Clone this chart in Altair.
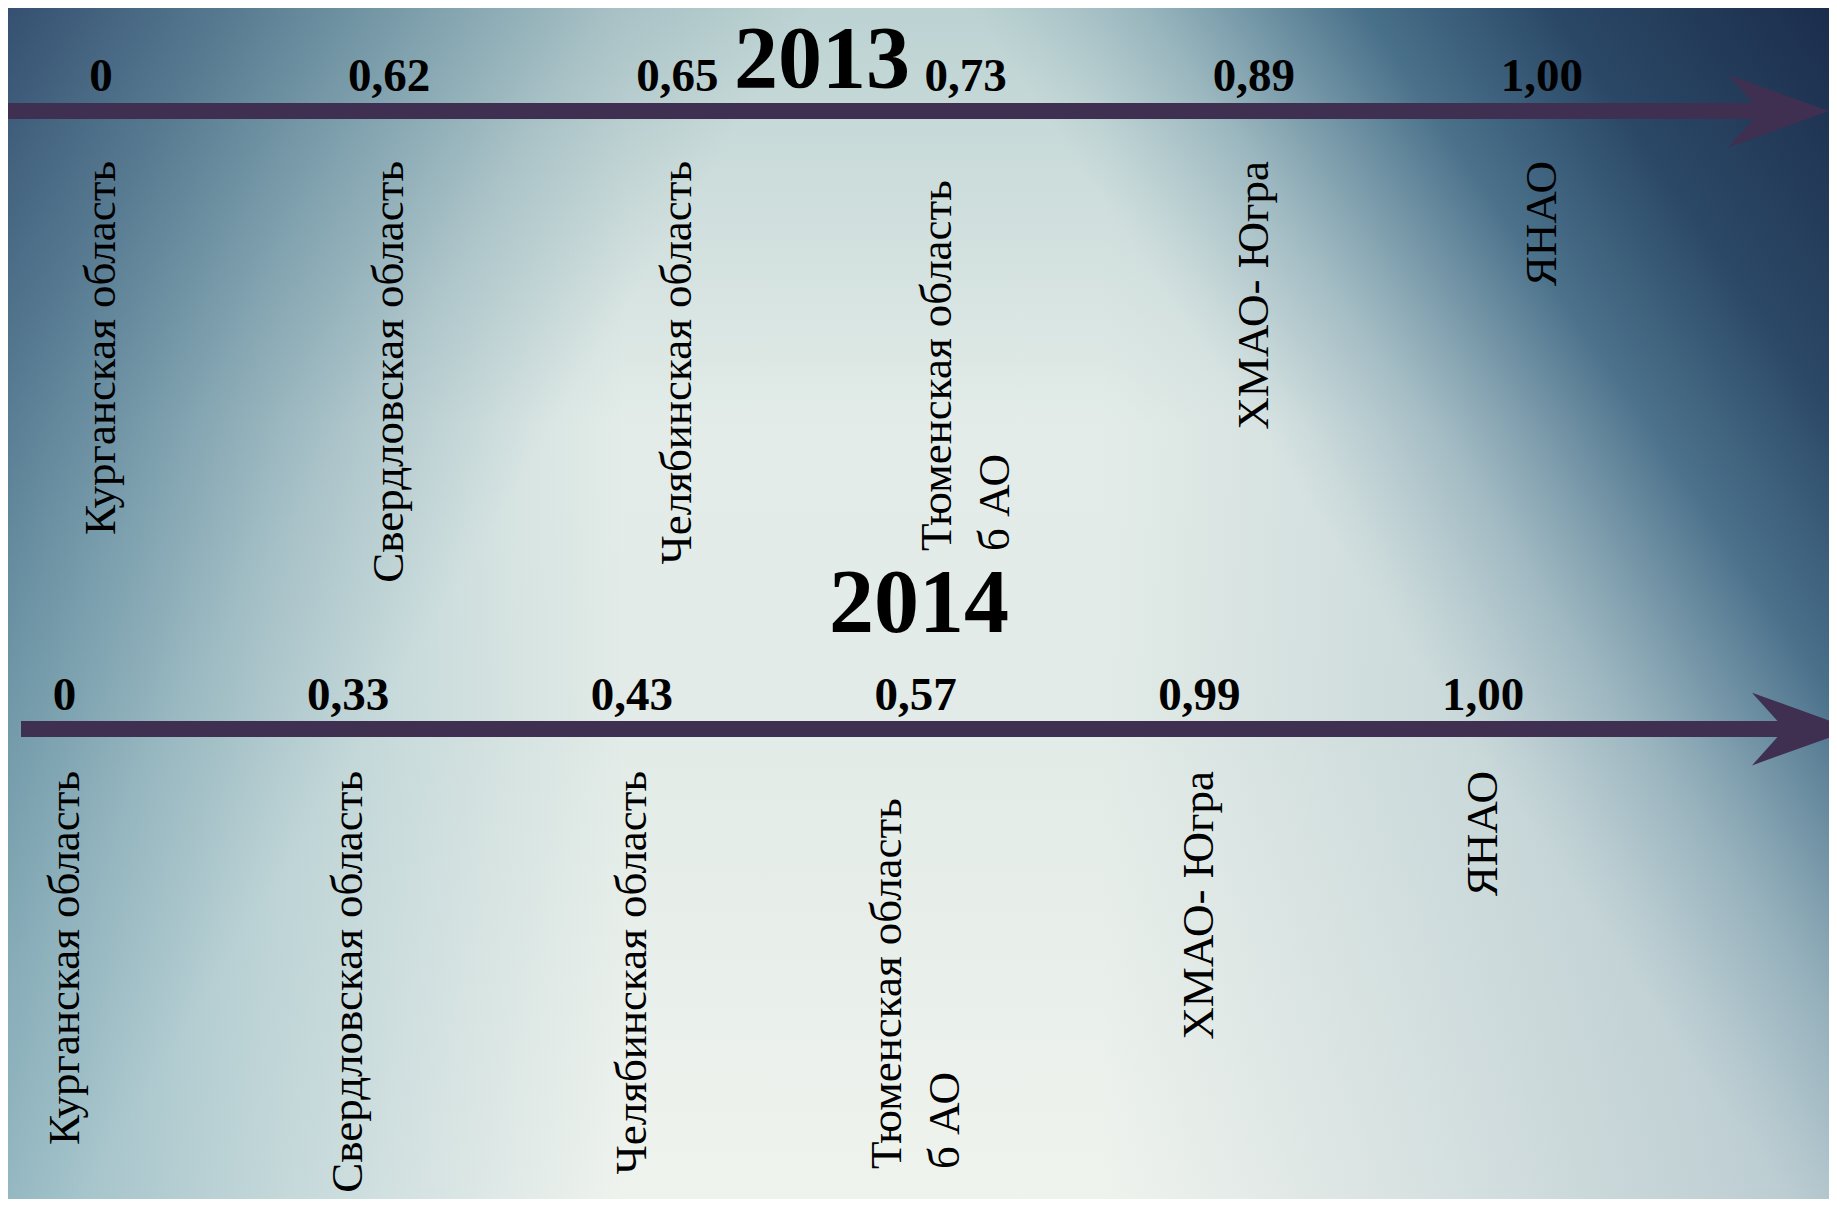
import altair as alt
import pandas as pd

# ---------------- data ----------------
regions = ["Курганская область", "Свердловская область", "Челябинская область",
           "Тюменская область\nб АО", "ХМАО- Югра", "ЯНАО"]
years = ["2013", "2014"]
values_2013 = [0, 0.62, 0.65, 0.73, 0.89, 1.00]
values_2014 = [0, 0.33, 0.43, 0.57, 0.99, 1.00]

rows = []
for year, vals in zip(years, [values_2013, values_2014]):
    for r, v in zip(regions, vals):
        rows.append({"year": year, "region": r, "value": v, "multi": "\n" in r})
df = pd.DataFrame(rows)
years_df = pd.DataFrame({"year": years})
one = pd.DataFrame({"k": [0]})

# ---------------- style ----------------
W, H = 1821, 1191
SERIF = "Liberation Serif"
ARROW = "#3f3052"
HEAD = "M -1 -0.72 L 1 0 L -1 0.72 L -0.35 0 Z"


def grad(kind, stops, **coords):
    g = {"gradient": kind, "stops": [{"offset": o, "color": c} for o, c in stops]}
    g.update(coords)
    return g


def bg(fill, x, x2, y, y2):
    return alt.Chart(one).mark_rect(fill=fill).encode(
        x=alt.value(x), x2=alt.value(x2), y=alt.value(y), y2=alt.value(y2))


bg_layers = [
    # light centre column, darker at the top
    bg(grad("linear", [(0, "#bcd2d2"), (0.35, "#e3ece8"), (0.6, "#e2ebe7"), (1, "#eff3ee")],
            x1=0, y1=0, x2=0, y2=1), 0, W, 0, H),
    # teal on the left
    bg(grad("linear", [(0, "rgba(85,145,165,0.55)"), (0.15, "rgba(85,145,165,0.28)"),
                       (0.34, "rgba(85,145,165,0)")], x1=0, y1=0, x2=1, y2=0), 0, W, 0, H),
    # teal-blue on the right
    bg(grad("linear", [(0.6, "rgba(60,110,140,0)"), (0.8, "rgba(60,110,140,0.15)"),
                       (1, "rgba(60,110,140,0.3)")], x1=0, y1=0, x2=1, y2=0), 0, W, 0, H),
    # dark top-left corner
    bg(grad("linear", [(0, "rgba(25,45,85,0.75)"), (0.3, "rgba(35,70,105,0.55)"),
                       (0.55, "rgba(40,85,115,0.32)"), (0.75, "rgba(40,85,115,0.14)"),
                       (1, "rgba(40,85,115,0)")], x1=0.0714, y1=0.0714, x2=0.496, y2=0.331),
       -108, 1292, -108, 1292),
    # dark navy top-right corner
    bg(grad("linear", [(0, "rgba(22,38,70,0.96)"), (0.33, "rgba(25,55,88,0.88)"),
                       (0.55, "rgba(30,75,110,0.7)"), (0.8, "rgba(50,100,130,0.25)"),
                       (0.95, "rgba(60,110,140,0.05)"), (1, "rgba(60,110,140,0)")],
            x1=0.812, y1=0.0714, x2=0.388, y2=0.362),
       692, 2092, -108, 1292),
]

yenc = alt.Y("year:N", scale=alt.Scale(domain=years, type="point", padding=0.4636, align=0.1798),
             axis=None)

cfgs = {
    "2013": dict(pad=0.6593, align=0.2447, val_dy=-20, lab_gap=50, title_x=814, title_dy=-24,
                 title_size=88, shaft=(0, 1755), head=1770.5),
    "2014": dict(pad=0.7094, align=0.1404, val_dy=-19, lab_gap=42, title_x=911, title_dy=-97,
                 title_size=90, shaft=(13, 1780), head=1794.5),
}


def year_layers(year):
    c = cfgs[year]
    xenc = alt.X("region:N", sort=regions, axis=None,
                 scale=alt.Scale(domain=regions, type="point", padding=c["pad"], align=c["align"]))
    f_year = f"datum.year == '{year}'"

    shaft = alt.Chart(years_df).transform_filter(f_year).mark_rule(
        strokeWidth=16, color=ARROW, strokeCap="butt").encode(
        x=alt.value(c["shaft"][0]), x2=alt.value(c["shaft"][1]), y=yenc)
    head = alt.Chart(years_df).transform_filter(f_year).mark_point(
        shape=HEAD, size=10201, filled=True, color=ARROW, opacity=1, strokeWidth=0).encode(
        x=alt.value(c["head"]), y=yenc)
    title = alt.Chart(years_df).transform_filter(f_year).mark_text(
        font=SERIF, fontSize=c["title_size"], fontWeight="bold", color="#000000", align="center",
        baseline="alphabetic", dy=c["title_dy"]).encode(
        x=alt.value(c["title_x"]), y=yenc, text="year:N")
    vals = alt.Chart(df).transform_filter(f_year).transform_calculate(
        label="datum.value == 0 ? '0' : replace(format(datum.value, '.2f'), '.', ',')"
    ).mark_text(font=SERIF, fontSize=47, fontWeight="bold", color="#000000", align="center",
                baseline="alphabetic", dy=c["val_dy"]).encode(x=xenc, y=yenc, text="label:N")
    labs = alt.Chart(df).transform_filter(f_year + " && !datum.multi").mark_text(
        font=SERIF, fontSize=45, color="#000000", angle=270, align="right",
        baseline="middle", dx=-c["lab_gap"], lineBreak="\n").encode(
        x=xenc, y=yenc, text="region:N")
    labs_multi = alt.Chart(df).transform_filter(f_year + " && datum.multi").mark_text(
        font=SERIF, fontSize=45, color="#000000", angle=270, align="left",
        baseline="middle", dx=-440, dy=-29, lineBreak="\n", lineHeight=58).encode(
        x=xenc, y=yenc, text="region:N")
    return [shaft, head, title, vals, labs, labs_multi]


layers = bg_layers + year_layers("2013") + year_layers("2014")

chart = alt.layer(*layers).resolve_scale(x="independent").properties(
    width=W, height=H, padding=0,
    autosize=alt.AutoSizeParams(type="none"),
    background="#dfeaea",
).configure_view(stroke=None)

chart.save("out.html", embed_options={"renderer": "svg", "actions": False})
